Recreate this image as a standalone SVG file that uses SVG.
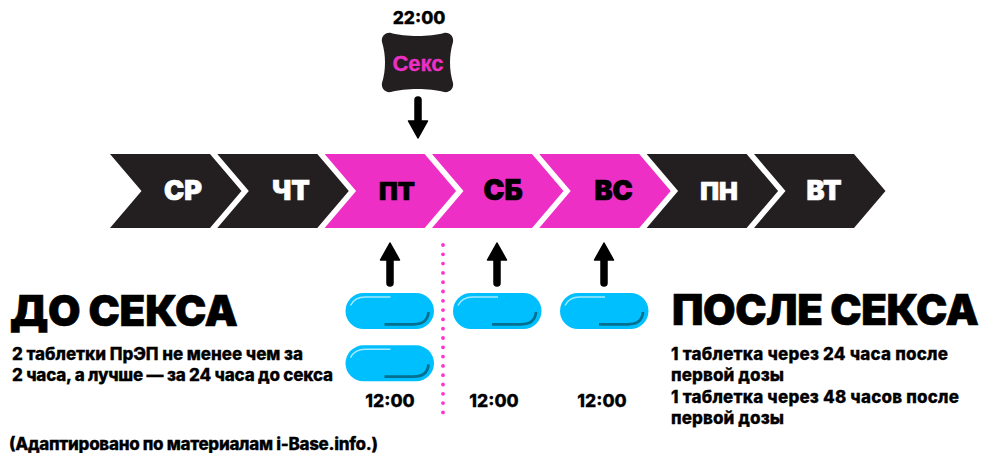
<svg xmlns="http://www.w3.org/2000/svg" width="982" height="453" viewBox="0 0 982 453">
<style>
text{font-family:Inter,"Noto Sans",sans-serif;font-weight:900;fill:#000;stroke:#000;stroke-width:.3;paint-order:stroke}
.day{font-size:27px;text-anchor:middle;stroke-width:.7}
.lt{fill:#fff;stroke:#fff}
.k{fill:#231f20}
.m{fill:#ee2fc6}
.h{font-size:42px;stroke-width:.6}
.b{font-size:17px;font-weight:800}
.t{font-size:17.500px;font-weight:800;text-anchor:middle}
.arrow{fill:#000;stroke:#000;stroke-width:1.500;stroke-linejoin:round}
</style>
<defs>
<path id="chev" d="M0 154H100L131.500 191L100 228H0L31.500 191Z"/>
<path id="up" d="M0 243L9.500 260H3V283A3 3 0 0 1-3 283V260H-9.500Z" class="arrow"/>
<g id="pill">
<rect x="0" y="0" width="88.500" height="36" rx="18" fill="#00bfff"/>
<path d="M5 12.500Q9 4 20 4H45" fill="none" stroke="#a5e9ff" stroke-width="1.500"/>
<path d="M39 31.300H68Q82 31.300 83 19" fill="none" stroke="#04708f" stroke-width="2.800"/>
</g>
</defs>
<g id="connectors">
<path id="arrow-sex" class="arrow" d="M418 138L408.500 121H415V100A3 3 0 0 1 421 100V121H427.500Z"/>
<use href="#up" x="390"/>
<use href="#up" x="497"/>
<use href="#up" x="604"/>
<line id="divider" x1="443" y1="245" x2="443" y2="414" stroke="#ff33cc" stroke-width="3.800" stroke-linecap="round" stroke-dasharray="0 9.300"/>
</g>
<g id="day-sr"><use href="#chev" x="110" class="k"/><text class="day lt" x="183" y="200">СР</text></g>
<g id="day-cht"><use href="#chev" x="217.300" class="k"/><text class="day lt" x="291" y="200">ЧТ</text></g>
<g id="day-pt"><use href="#chev" x="324.600" class="m"/><text class="day" x="397" y="200" style="font-size:25px">ПТ</text></g>
<g id="day-sb"><use href="#chev" x="432" class="m"/><text class="day" x="503" y="200" style="font-size:28px">СБ</text></g>
<g id="day-vs"><use href="#chev" x="539.200" class="m"/><text class="day" x="613.500" y="200">ВС</text></g>
<g id="day-pn"><use href="#chev" x="646.600" class="k"/><text class="day lt" x="719" y="200" style="font-size:25px">ПН</text></g>
<g id="day-vt"><use href="#chev" x="754" class="k"/><text class="day lt" x="824" y="200">ВТ</text></g>
<g id="sex">
<text class="t" x="419" y="24">22:00</text>
<path class="k" d="M391 33C405 37 430 37 444 33C450 32 454 37 453 42C449 55 449 70 453 83C454 88 450 93 444 92C430 88 405 88 391 92C385 93 381 88 382 83C386 70 386 55 382 42C381 37 385 32 391 33Z"/>
<text x="418" y="71" text-anchor="middle" font-size="22" style="fill:#ee2fc6;stroke:#ee2fc6;font-family:'Liberation Sans',sans-serif;font-weight:700">Секс</text>
</g>
<g id="pill-1"><use href="#pill" x="345.500" y="293"/></g>
<g id="pill-2"><use href="#pill" x="345.500" y="345.300"/></g>
<g id="pill-3"><use href="#pill" x="453" y="293"/></g>
<g id="pill-4"><use href="#pill" x="560" y="293"/></g>
<g id="times">
<text class="t" x="390" y="407">12:00</text>
<text class="t" x="494" y="407">12:00</text>
<text class="t" x="602" y="407">12:00</text>
</g>
<g id="before">
<text class="h" x="10" y="326" textLength="228">ДО СЕКСА</text>
<text class="b" x="12" y="360" textLength="291">2 таблетки ПрЭП не менее чем за</text>
<text class="b" x="12" y="381" textLength="321">2 часа, а лучше — за 24 часа до секса</text>
</g>
<g id="after">
<text class="h" x="672" y="325" textLength="307">ПОСЛЕ СЕКСА</text>
<text class="b" x="671" y="360" textLength="277">1 таблетка через 24 часа после</text>
<text class="b" x="671" y="381" textLength="113">первой дозы</text>
<text class="b" x="671" y="403" textLength="288">1 таблетка через 48 часов после</text>
<text class="b" x="671" y="424" textLength="113">первой дозы</text>
</g>
<text id="source" class="b" x="9" y="450" textLength="369">(Адаптировано по материалам i-Base.info.)</text>
</svg>
